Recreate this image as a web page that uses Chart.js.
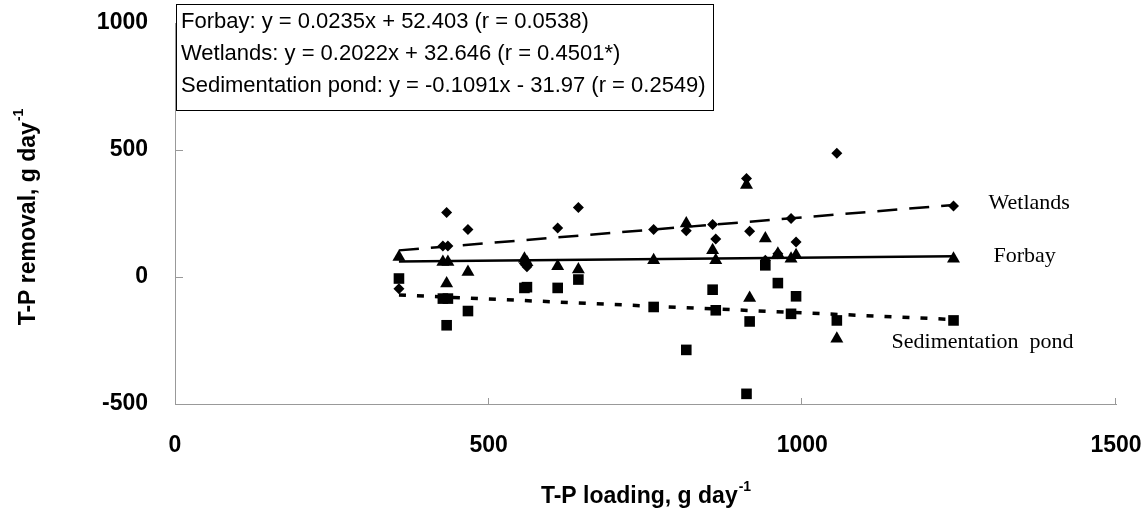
<!DOCTYPE html>
<html>
<head>
<meta charset="utf-8">
<script src="https://cdn.jsdelivr.net/npm/chart.js@4.4.1/dist/chart.umd.min.js"></script>
<style>
  html, body { margin: 0; padding: 0; background: #fff; }
  #wrap { width: 1145px; height: 512px; }
</style>
</head>
<body>
<div id="wrap"><canvas id="chart" width="1145" height="512"></canvas></div>
<script>
// T-P loading (g/day) shared by the three units
const xLoading = [357, 427, 433, 435, 467, 557, 561, 610, 643, 763, 815, 857, 862, 911, 916, 941, 961, 982, 990, 1055, 1241];
// T-P removal (g/day)
const forbay   = [79, 59, -26, 59, 20, 72, 58, 42, 30, 66, 211, 105, 66, 362, -83, 152, 92, 72, 86, -243, 72];
const wetlands = [-46, 122, 254, 122, 187, 53, 40, 193, 274, 187, 182, 207, 150, 388, 180, 66, 92, 230, 138, 487, 280];
const sedPond  = [-6, -85, -190, -85, -134, -43, -40, -43, -10, -118, -287, -50, -131, -460, -175, 46, -24, -145, -76, -171, -171];

// regression coefficients [slope, intercept]
const forbayFit   = [0.0235, 52.403];
const wetlandsFit = [0.2022, 32.646];
const sedPondFit  = [-0.1091, -31.97];

const xTicks = [0, 500, 1000, 1500];
const yTicks = [-500, 0, 500, 1000];

const equations = [
  'Forbay: y = 0.0235x + 52.403 (r = 0.0538)',
  'Wetlands: y = 0.2022x + 32.646 (r = 0.4501*)',
  'Sedimentation pond: y = -0.1091x - 31.97 (r = 0.2549)'
];

const toPoints = ys => xLoading.map((x, i) => ({ x: x, y: ys[i] }));
const xMin = Math.min(...xLoading);
const xMax = Math.max(...xLoading);
const fitLine = f => [{ x: xMin, y: f[0] * xMin + f[1] }, { x: xMax, y: f[0] * xMax + f[1] }];

const SANS = '"Liberation Sans", Arial, sans-serif';
const SERIF = '"Liberation Serif", "Times New Roman", serif';

// labels, box, inward ticks and axis titles
const overlay = {
  id: 'overlay',
  afterDraw(chart) {
    const ctx = chart.ctx;
    const xs = chart.scales.x;
    const ys = chart.scales.y;
    const area = chart.chartArea;
    ctx.save();

    ctx.strokeStyle = '#999';
    ctx.lineWidth = 1;
    ctx.beginPath();
    yTicks.forEach(v => {
      const py = Math.round(ys.getPixelForValue(v)) + 0.5;
      ctx.moveTo(area.left, py);
      ctx.lineTo(area.left + 8, py);
    });
    xTicks.slice(1).forEach(v => {
      const px = Math.round(xs.getPixelForValue(v)) - 0.5;
      ctx.moveTo(px, area.bottom);
      ctx.lineTo(px, area.bottom - 6);
    });
    ctx.stroke();

    // equation box
    ctx.fillStyle = '#fff';
    ctx.fillRect(176.5, 4.5, 537, 106);
    ctx.strokeStyle = '#000';
    ctx.strokeRect(176.5, 4.5, 537, 106);
    ctx.fillStyle = '#000';
    ctx.font = '22px ' + SANS;
    ctx.textAlign = 'left';
    ctx.textBaseline = 'middle';
    equations.forEach((t, i) => ctx.fillText(t, 181, 22 + i * 32));

    // series labels next to the fitted lines
    ctx.font = '22px ' + SERIF;
    const endX = xs.getPixelForValue(xMax);
    ctx.fillText('Wetlands', endX + 35, ys.getPixelForValue(fitLine(wetlandsFit)[1].y) - 2);
    ctx.fillText('Forbay', endX + 40, ys.getPixelForValue(fitLine(forbayFit)[1].y));
    ctx.fillText('Sedimentation  pond', endX - 62, ys.getPixelForValue(fitLine(sedPondFit)[1].y) + 23);

    // x axis title
    ctx.textBaseline = 'alphabetic';
    ctx.font = 'bold 14px ' + SANS;
    const supW = ctx.measureText('-1').width;
    ctx.font = 'bold 23px ' + SANS;
    const xt = 'T-P loading, g day';
    const xtW = ctx.measureText(xt).width;
    const xStart = (area.left + area.right) / 2 - (xtW + supW) / 2;
    ctx.fillText(xt, xStart, 503);
    ctx.font = 'bold 14px ' + SANS;
    ctx.fillText('-1', xStart + xtW + 1, 491);

    // y axis title
    ctx.translate(35, (area.top + area.bottom) / 2 + 4);
    ctx.rotate(-Math.PI / 2);
    ctx.font = 'bold 23px ' + SANS;
    const yt = 'T-P removal, g day';
    const ytW = ctx.measureText(yt).width;
    const yStart = -(ytW + supW) / 2;
    ctx.fillText(yt, yStart, 0);
    ctx.font = 'bold 14px ' + SANS;
    ctx.fillText('-1', yStart + ytW + 1, -12);

    ctx.restore();
  }
};

const pointStyle = (data, style, radius) => ({
  type: 'scatter',
  data: toPoints(data),
  pointStyle: style,
  pointRadius: radius,
  backgroundColor: '#000',
  borderColor: '#000',
  borderWidth: 0
});

const lineStyle = (fit, width, dash) => ({
  type: 'line',
  data: fitLine(fit),
  borderColor: '#000',
  borderWidth: width,
  borderDash: dash,
  pointRadius: 0,
  fill: false
});

new Chart(document.getElementById('chart').getContext('2d'), {
  data: {
    datasets: [
      lineStyle(wetlandsFit, 2.5, [20, 12]),
      lineStyle(forbayFit, 2.5, []),
      lineStyle(sedPondFit, 3.5, [7, 11]),
      pointStyle(wetlands, 'rectRot', 5.5),
      pointStyle(forbay, 'triangle', 7.5),
      pointStyle(sedPond, 'rect', 7.5)
    ]
  },
  options: {
    responsive: false,
    animation: false,
    events: [],
    layout: { padding: { top: 23, right: 29, bottom: 0, left: 0 } },
    plugins: {
      legend: { display: false },
      tooltip: { enabled: false }
    },
    scales: {
      x: {
        type: 'linear',
        min: 0,
        max: 1500,
        afterBuildTicks: s => { s.ticks = xTicks.map(v => ({ value: v })); },
        afterFit: s => { s.height = 108; s.paddingLeft = 0; s.paddingRight = 0; },
        grid: { display: false },
        border: { display: true, color: '#999', width: 1 },
        ticks: { color: '#000', padding: 20, maxRotation: 0, callback: v => String(v), font: { family: SANS, size: 23, weight: 'bold' } }
      },
      y: {
        type: 'linear',
        min: -500,
        max: 1000,
        afterBuildTicks: s => { s.ticks = yTicks.map(v => ({ value: v })); },
        afterFit: s => { s.width = 175; s.paddingTop = 0; s.paddingBottom = 0; },
        grid: { display: false },
        border: { display: true, color: '#999', width: 1 },
        ticks: { color: '#000', padding: 19, callback: v => String(v), font: { family: SANS, size: 23, weight: 'bold' } }
      }
    }
  },
  plugins: [overlay]
});
</script>
</body>
</html>
